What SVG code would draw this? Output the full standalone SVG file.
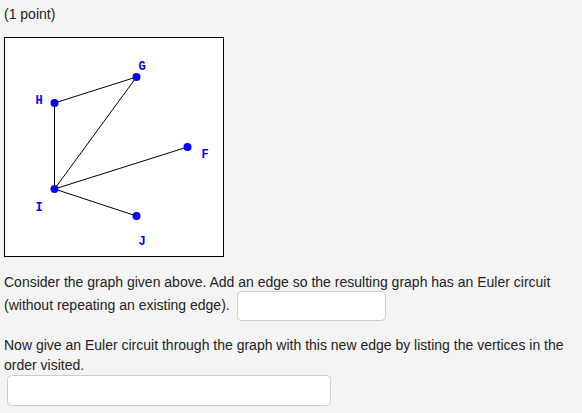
<svg xmlns="http://www.w3.org/2000/svg" width="582" height="413" viewBox="0 0 582 413">
<style>
.t{font-family:"Liberation Sans",Arial,sans-serif;font-size:14px;fill:#222}
.lbl{font-family:"Liberation Mono","DejaVu Sans Mono",monospace;font-size:12px;font-weight:bold;fill:#0000ff;text-anchor:middle}
.nd{fill:#0000ff}
.e{stroke:#000;stroke-width:1;fill:none}
.inp{fill:#fff;stroke:#ccc;stroke-width:1}
</style>
<rect x="0" y="0" width="582" height="413" fill="#f4f4f4"/>
<text class="t" x="4" y="19">(1 point)</text>
<rect x="4.5" y="37.5" width="219" height="219" fill="#fff" stroke="#000" stroke-width="1"/>
<g id="connectors">
<line class="e" x1="54.5" y1="103" x2="136.5" y2="77"/>
<line class="e" x1="54.5" y1="103" x2="54.5" y2="189"/>
<line class="e" x1="54.5" y1="189" x2="136.5" y2="77"/>
<line class="e" x1="54.5" y1="189" x2="187.5" y2="147"/>
<line class="e" x1="54.5" y1="189" x2="136.5" y2="216"/>
</g>
<g id="G"><circle class="nd" cx="136.5" cy="77" r="4"/><text class="lbl" x="142" y="70">G</text></g>
<g id="H"><circle class="nd" cx="54.5" cy="103" r="4"/><text class="lbl" x="39" y="104">H</text></g>
<g id="F"><circle class="nd" cx="187.5" cy="147" r="4"/><text class="lbl" x="205" y="158">F</text></g>
<g id="I"><circle class="nd" cx="54.5" cy="189" r="4"/><text class="lbl" x="39" y="211">I</text></g>
<g id="J"><circle class="nd" cx="136.5" cy="216" r="4"/><text class="lbl" x="142" y="245">J</text></g>
<text class="t" x="4" y="287">Consider the graph given above. Add an edge so the resulting graph has an Euler circuit</text>
<text class="t" x="4" y="310">(without repeating an existing edge).</text>
<rect class="inp" x="237.5" y="291.5" width="148" height="29" rx="4"/>
<text class="t" x="4" y="350">Now give an Euler circuit through the graph with this new edge by listing the vertices in the</text>
<text class="t" x="4" y="370">order visited.</text>
<rect class="inp" x="7.5" y="375.5" width="323" height="30" rx="4"/>
</svg>
